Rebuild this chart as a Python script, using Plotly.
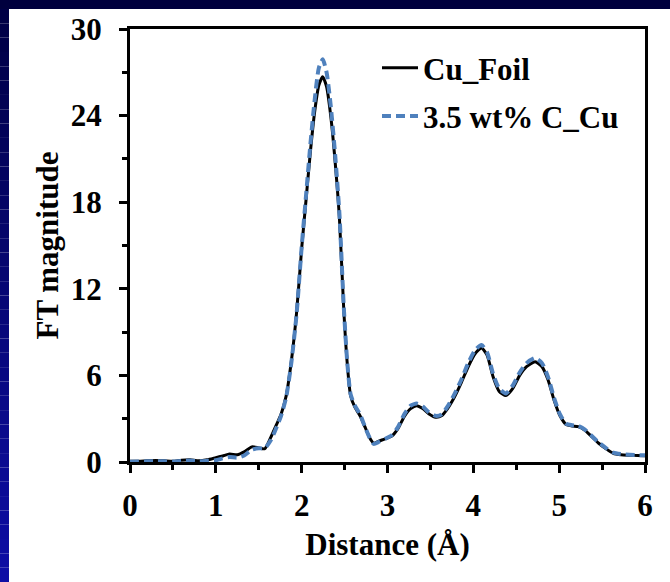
import plotly.graph_objects as go

# Radial distance grid (Å) shared by both spectra
distance = [0.00, 0.10, 0.20, 0.30, 0.40, 0.50, 0.60, 0.70, 0.80, 0.90,
            1.00, 1.08, 1.16, 1.25, 1.33, 1.42, 1.50, 1.57, 1.64, 1.70,
            1.76, 1.82, 1.88, 1.94, 2.00, 2.05, 2.10, 2.15, 2.20, 2.245,
            2.29, 2.34, 2.39, 2.44, 2.49, 2.53, 2.57, 2.62, 2.68, 2.74,
            2.79, 2.84, 2.90, 2.97, 3.05, 3.12, 3.20, 3.27, 3.34, 3.41,
            3.48, 3.56, 3.63, 3.70, 3.78, 3.86, 3.94, 4.02, 4.095, 4.16,
            4.23, 4.30, 4.38, 4.46, 4.54, 4.62, 4.72, 4.80, 4.87, 4.94,
            5.01, 5.08, 5.15, 5.22, 5.30, 5.38, 5.46, 5.55, 5.63, 5.72,
            5.82, 5.91, 6.00]

# FT magnitude of the Cu foil reference
cu_foil = [0.05, 0.05, 0.08, 0.10, 0.08, 0.05, 0.12, 0.15, 0.08, 0.15,
           0.30, 0.42, 0.55, 0.50, 0.70, 1.05, 0.98, 0.92, 1.70, 2.50,
           3.30, 4.60, 7.00, 10.3, 14.8, 18.1, 21.4, 24.2, 26.1, 26.7,
           26.0, 23.9, 20.8, 16.9, 10.6, 6.9, 4.6, 3.8, 3.2, 2.4,
           1.7, 1.3, 1.45, 1.6, 1.8, 2.3, 3.2, 3.7, 3.9, 3.7,
           3.35, 3.1, 3.2, 3.7, 4.5, 5.5, 6.6, 7.5, 7.9, 7.4,
           5.9, 4.9, 4.6, 5.1, 6.0, 6.6, 6.95, 6.6, 5.7, 4.3,
           3.2, 2.6, 2.5, 2.45, 2.2, 1.75, 1.3, 0.9, 0.6, 0.5,
           0.47, 0.45, 0.44]

# FT magnitude of the 3.5 wt% C_Cu sample
c_cu = [0.02, 0.03, 0.05, 0.06, 0.05, 0.03, 0.08, 0.10, 0.05, 0.08,
        0.12, 0.25, 0.35, 0.30, 0.45, 0.85, 0.95, 0.95, 1.50, 2.30,
        3.20, 4.50, 6.90, 10.2, 14.9, 18.4, 21.9, 25.0, 27.3, 27.9,
        27.0, 24.6, 21.3, 17.2, 10.8, 7.0, 4.7, 3.9, 3.3, 2.4,
        1.7, 1.25, 1.4, 1.6, 1.85, 2.4, 3.35, 3.9, 4.05, 3.85,
        3.45, 3.2, 3.3, 3.85, 4.7, 5.7, 6.85, 7.75, 8.1, 7.6,
        6.1, 5.1, 4.75, 5.3, 6.2, 6.85, 7.2, 6.85, 5.9, 4.45,
        3.3, 2.65, 2.55, 2.5, 2.25, 1.8, 1.35, 0.95, 0.65, 0.55,
        0.5, 0.48, 0.46]

x_ticks = [0, 1, 2, 3, 4, 5, 6]
y_ticks = [0, 6, 12, 18, 24, 30]

W, H = 670, 582
ML, MR, MT, MB = 130, 25, 29, 120
PW, PH = W - ML - MR, H - MT - MB

FONT = "Liberation Serif, Times New Roman, serif"


def px_x(p):
    return (p - ML) / PW


def px_y(p):
    return (H - MB - p) / PH


fig = go.Figure()
fig.add_trace(go.Scatter(
    x=distance, y=cu_foil, mode="lines", name="Cu_Foil",
    line=dict(color="black", width=3, shape="spline", smoothing=0.6),
    legendgroup="a"))
fig.add_trace(go.Scatter(
    x=distance, y=c_cu, mode="lines", name="3.5 wt% C_Cu",
    line=dict(color="#4F81BD", width=4, dash="9px,5px", shape="spline",
              smoothing=0.6),
    legendgroup="b"))

# slide-style frame: dark strip on top, blue gradient strip on the left
shapes = [dict(type="rect", xref="paper", yref="paper", layer="below",
               x0=px_x(0), x1=px_x(W), y0=px_y(9), y1=px_y(0),
               fillcolor="#00003E", line=dict(width=0))]
n = 40
for i in range(n):
    t = i / (n - 1)
    r = int(0 + 14 * t)
    g = int(0 + 14 * t)
    b = int(70 + 95 * t)
    shapes.append(dict(type="rect", xref="paper", yref="paper", layer="below",
                       x0=px_x(0), x1=px_x(9),
                       y0=px_y(9 + (H - 9) * (i + 1) / n),
                       y1=px_y(9 + (H - 9) * i / n),
                       fillcolor=f"rgb({r},{g},{b})", line=dict(width=0)))

axis_font = dict(family=FONT, size=31, color="black", weight="bold")

fig.update_layout(
    width=W, height=H,
    margin=dict(l=ML, r=MR, t=MT, b=MB),
    paper_bgcolor="white", plot_bgcolor="rgba(0,0,0,0)",
    shapes=shapes,
    showlegend=True,
    legend=dict(x=px_x(377), y=px_y(41), xanchor="left", yanchor="top",
                bgcolor="rgba(0,0,0,0)", borderwidth=0,
                font=dict(family=FONT, size=31, color="black", weight="bold"),
                tracegroupgap=5, itemwidth=36),
    xaxis=dict(range=[0, 6], tickmode="array", tickvals=x_ticks,
               ticktext=[str(v) for v in x_ticks],
               showline=True, linecolor="black", linewidth=3, mirror=True,
               ticks="outside", ticklen=8, tickwidth=3, tickcolor="black",
               minor=dict(dtick=0.5, ticks="outside", ticklen=5, tickwidth=3,
                          tickcolor="black", showgrid=False),
               showgrid=False, zeroline=False, tickfont=axis_font,
               ticklabelstandoff=6,
               title=dict(text="Distance (Å)", font=axis_font, standoff=12)),
    yaxis=dict(range=[0, 30], tickmode="array", tickvals=y_ticks,
               ticktext=[str(v) for v in y_ticks],
               showline=True, linecolor="black", linewidth=3, mirror=True,
               ticks="outside", ticklen=8, tickwidth=3, tickcolor="black",
               minor=dict(dtick=3, ticks="outside", ticklen=5, tickwidth=3,
                          tickcolor="black", showgrid=False),
               showgrid=False, zeroline=False, tickfont=axis_font,
               ticklabelstandoff=11,
               title=dict(text="FT magnitude", font=axis_font, standoff=3)),
)

fig.write_html("out.html")
